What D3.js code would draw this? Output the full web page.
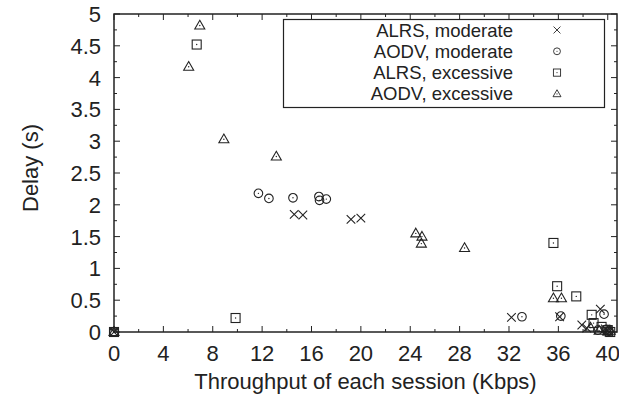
<!DOCTYPE html>
<html>
<head>
<meta charset="utf-8">
<script src="https://cdn.jsdelivr.net/npm/d3@7"></script>
<style>
    body { margin: 0; background: #fff; }
    text { font-family: "Liberation Sans", Arial, sans-serif; fill: #222; }
</style>
</head>
<body>
<svg id="drawing_region"></svg>
<script>
// values: [throughput Kbps, delay s]
var alrsModerate = [
    [0, 0], [14.6, 1.85], [15.3, 1.84], [19.2, 1.77], [20.0, 1.79],
    [32.2, 0.23], [36.1, 0.24], [37.9, 0.11], [38.3, 0.06], [39.4, 0.36],
    [39.8, 0.05], [40.0, 0.02], [40.1, 0]
];
var aodvModerate = [
    [0, 0], [11.7, 2.18], [12.55, 2.10], [14.5, 2.11], [16.6, 2.13],
    [16.65, 2.07], [17.2, 2.09], [33.05, 0.24], [36.2, 0.25], [39.7, 0.28],
    [39.2, 0.03], [39.9, 0.04], [40.1, 0.01]
];
var alrsExcessive = [
    [0, 0], [6.7, 4.52], [9.85, 0.22], [35.6, 1.40], [35.9, 0.72],
    [37.45, 0.56], [38.7, 0.27], [38.85, 0.14], [39.5, 0.08], [40.0, 0.03],
    [40.2, 0]
];
var aodvExcessive = [
    [0, 0], [6.05, 4.17], [6.95, 4.82], [8.9, 3.03], [13.15, 2.76],
    [24.45, 1.55], [24.95, 1.50], [24.9, 1.39], [28.4, 1.32], [35.6, 0.53],
    [36.25, 0.53], [38.6, 0.07], [39.3, 0.02], [40.0, 0.01], [40.2, 0.02]
];

var seriesNames = ['ALRS, moderate', 'AODV, moderate', 'ALRS, excessive', 'AODV, excessive'];
var seriesShapes = ['cross', 'circle', 'square', 'triangle'];
var seriesData = [alrsModerate, aodvModerate, alrsExcessive, aodvExcessive];

var xTicks = [0, 4, 8, 12, 16, 20, 24, 28, 32, 36, 40];
var yTicks = [0, 0.5, 1, 1.5, 2, 2.5, 3, 3.5, 4, 4.5, 5];

var width = 619;
var height = 401;
var margin = { top: 14, right: 2, bottom: 69, left: 114 };
var ink = '#222';
var fontSize = '22px';

var svg = d3.select('#drawing_region')
    .attr('width', width)
    .attr('height', height);

var x = d3.scaleLinear().domain([0, 40.75]).range([margin.left, width - margin.right]);
var y = d3.scaleLinear().domain([0, 5]).range([height - margin.bottom, margin.top]);

var minorX = d3.range(0, 41, 2);
var minorY = d3.range(0, 5.01, 0.25);

// ticks on all four sides, pointing inward
var g = svg.append('g').attr('stroke', ink).attr('stroke-width', 1);
minorX.forEach(v => {
    var len = v % 4 === 0 ? 6 : 3;
    g.append('line').attr('x1', x(v)).attr('x2', x(v)).attr('y1', y(0)).attr('y2', y(0) - len);
    g.append('line').attr('x1', x(v)).attr('x2', x(v)).attr('y1', y(5)).attr('y2', y(5) + len);
});
minorY.forEach(v => {
    var len = Math.abs(v * 2 - Math.round(v * 2)) < 1e-6 ? 6 : 3;
    g.append('line').attr('y1', y(v)).attr('y2', y(v)).attr('x1', x.range()[0]).attr('x2', x.range()[0] + len);
    g.append('line').attr('y1', y(v)).attr('y2', y(v)).attr('x1', x.range()[1]).attr('x2', x.range()[1] - len);
});

svg.append('rect')
    .attr('x', x.range()[0])
    .attr('y', y(5))
    .attr('width', x.range()[1] - x.range()[0])
    .attr('height', y(0) - y(5))
    .attr('fill', 'none')
    .attr('stroke', ink)
    .attr('stroke-width', 1.5);

svg.selectAll('.xlab')
    .data(xTicks)
    .enter()
    .append('text')
    .attr('class', 'xlab')
    .attr('x', d => x(d))
    .attr('y', y(0) + 29)
    .attr('text-anchor', 'middle')
    .style('font-size', fontSize)
    .text(d => d);

svg.selectAll('.ylab')
    .data(yTicks)
    .enter()
    .append('text')
    .attr('class', 'ylab')
    .attr('x', x.range()[0] - 13)
    .attr('y', d => y(d) + 8)
    .attr('text-anchor', 'end')
    .style('font-size', fontSize)
    .text(d => d);

svg.append('text')
    .attr('x', (x.range()[0] + x.range()[1]) / 2)
    .attr('y', y(0) + 57)
    .attr('text-anchor', 'middle')
    .style('font-size', fontSize)
    .text('Throughput of each session (Kbps)');

svg.append('text')
    .attr('transform', `translate(38, ${(y(0) + y(5)) / 2 - 5}) rotate(-90)`)
    .attr('text-anchor', 'middle')
    .style('font-size', fontSize)
    .text('Delay (s)');

function drawMarker(sel, shape) {
    sel.attr('fill', 'none').attr('stroke', ink).attr('stroke-width', 1.1);
    if (shape === 'cross') {
        sel.append('path').attr('d', 'M-4.3,-4.3L4.3,4.3M-4.3,4.3L4.3,-4.3');
        return;
    }
    if (shape === 'circle') sel.append('circle').attr('r', 4.3);
    if (shape === 'square') sel.append('rect').attr('x', -4.5).attr('y', -4.5).attr('width', 9).attr('height', 9);
    if (shape === 'triangle') sel.append('path').attr('d', 'M0,-5.2L5,3.5L-5,3.5Z');
    // gnuplot-like centre dot
    sel.append('circle').attr('r', 0.7).attr('fill', ink).attr('stroke', 'none');
}

seriesData.forEach((data, i) => {
    svg.append('g')
        .selectAll('g')
        .data(data)
        .enter()
        .append('g')
        .attr('transform', d => `translate(${x(d[0])}, ${y(d[1])})`)
        .each(function () { drawMarker(d3.select(this), seriesShapes[i]); });
});

// legend
var legend = svg.append('g');
legend.append('rect')
    .attr('x', 283.5).attr('y', 19.5)
    .attr('width', 321).attr('height', 88)
    .attr('fill', '#fff')
    .attr('stroke', ink)
    .attr('stroke-width', 1.2);

seriesNames.forEach((name, i) => {
    var ly = 30 + i * 21.3;
    legend.append('text')
        .attr('x', 513)
        .attr('y', ly + 6.5)
        .attr('text-anchor', 'end')
        .style('font-size', '18.5px')
        .text(name);
    var m = legend.append('g').attr('transform', `translate(557, ${ly}) scale(0.8)`);
    drawMarker(m, seriesShapes[i]);
});
</script>
</body>
</html>
